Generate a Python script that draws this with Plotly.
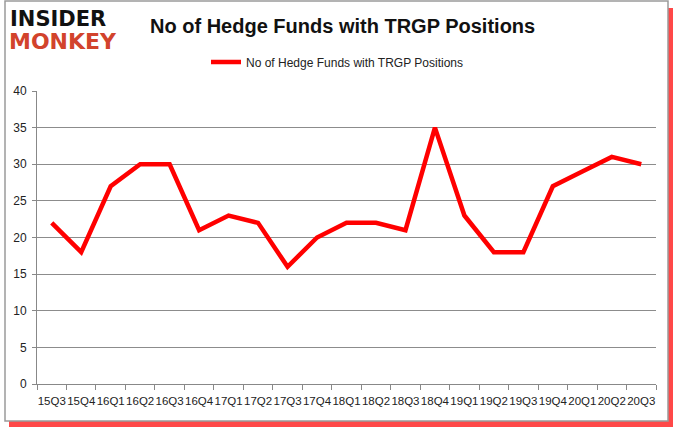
import plotly.graph_objects as go

quarters = ["15Q3", "15Q4", "16Q1", "16Q2", "16Q3", "16Q4", "17Q1", "17Q2", "17Q3", "17Q4",
            "18Q1", "18Q2", "18Q3", "18Q4", "19Q1", "19Q2", "19Q3", "19Q4", "20Q1", "20Q2", "20Q3"]
funds = [22, 18, 27, 30, 30, 21, 23, 22, 16, 20, 22, 22, 21, 35, 23, 18, 18, 27, 29, 31, 30]
series_name = "No of Hedge Funds with TRGP Positions"
title_text = "No of Hedge Funds with TRGP Positions"

W, H = 677, 431
L, R, T, B = 37, 21, 91, 47
pw, ph = W - L - R, H - T - B

def px(x):
    return (x - L) / pw

def py(y):
    return (H - B - y) / ph

fig = go.Figure()
fig.add_trace(go.Scatter(
    x=quarters, y=funds, mode="lines", name=series_name,
    line=dict(color="#ff0000", width=4.5),
))

shapes = [
    dict(type="rect", xref="paper", yref="paper", x0=px(9), x1=px(673), y0=py(427), y1=py(8),
         fillcolor="rgba(255,40,40,0.85)", line=dict(width=0), layer="below"),
    dict(type="rect", xref="paper", yref="paper", x0=px(5), x1=px(668), y0=py(421), y1=py(1),
         fillcolor="white", line=dict(color="#9a9a9a", width=1.5), layer="below"),
]

annotations = [
    dict(text="<b>INSIDER</b>", x=px(8), y=py(19), xref="paper", yref="paper",
         xanchor="left", yanchor="middle", showarrow=False,
         font=dict(family="DejaVu Sans", size=21, color="#111111")),
    dict(text="<b>MONKEY</b>", x=px(7), y=py(42), xref="paper", yref="paper",
         xanchor="left", yanchor="middle", showarrow=False,
         font=dict(family="DejaVu Sans", size=22, color="#d2432c")),
    dict(text="<b>" + title_text + "</b>", x=px(342), y=py(26), xref="paper", yref="paper",
         xanchor="center", yanchor="middle", showarrow=False,
         font=dict(family="Liberation Sans", size=20, color="#111111")),
]

fig.update_layout(
    width=W, height=H,
    margin=dict(l=L, r=R, t=T, b=B),
    paper_bgcolor="white", plot_bgcolor="white",
    shapes=shapes, annotations=annotations,
    showlegend=True,
    legend=dict(orientation="h", x=px(337), xanchor="center", y=py(62), yanchor="middle",
                font=dict(family="Liberation Sans", size=12, color="#222222"),
                bgcolor="rgba(0,0,0,0)"),
    font=dict(family="Liberation Sans", size=12, color="#222222"),
)
fig.update_xaxes(
    type="category", range=[-0.5, len(quarters) - 0.5], tickson="boundaries",
    ticks="outside", ticklen=5, tickcolor="#888888", ticklabelstandoff=6,
    showline=True, linecolor="#888888", linewidth=1, showgrid=False, tickangle=0,
    tickfont=dict(family="Liberation Sans", size=11.5, color="#222222"), automargin=False,
)
fig.update_yaxes(
    range=[0, 40], dtick=5, showgrid=True, gridcolor="#8c8c8c", gridwidth=1,
    showline=True, linecolor="#888888", linewidth=1, ticks="outside", ticklen=4,
    tickcolor="#888888", zeroline=False, automargin=False, ticklabelstandoff=3,
    tickfont=dict(family="Liberation Sans", size=12, color="#222222"),
)

fig.write_html("out.html", config={"displayModeBar": False},
               post_script="document.body.style.margin='0';document.body.style.overflow='hidden';")
